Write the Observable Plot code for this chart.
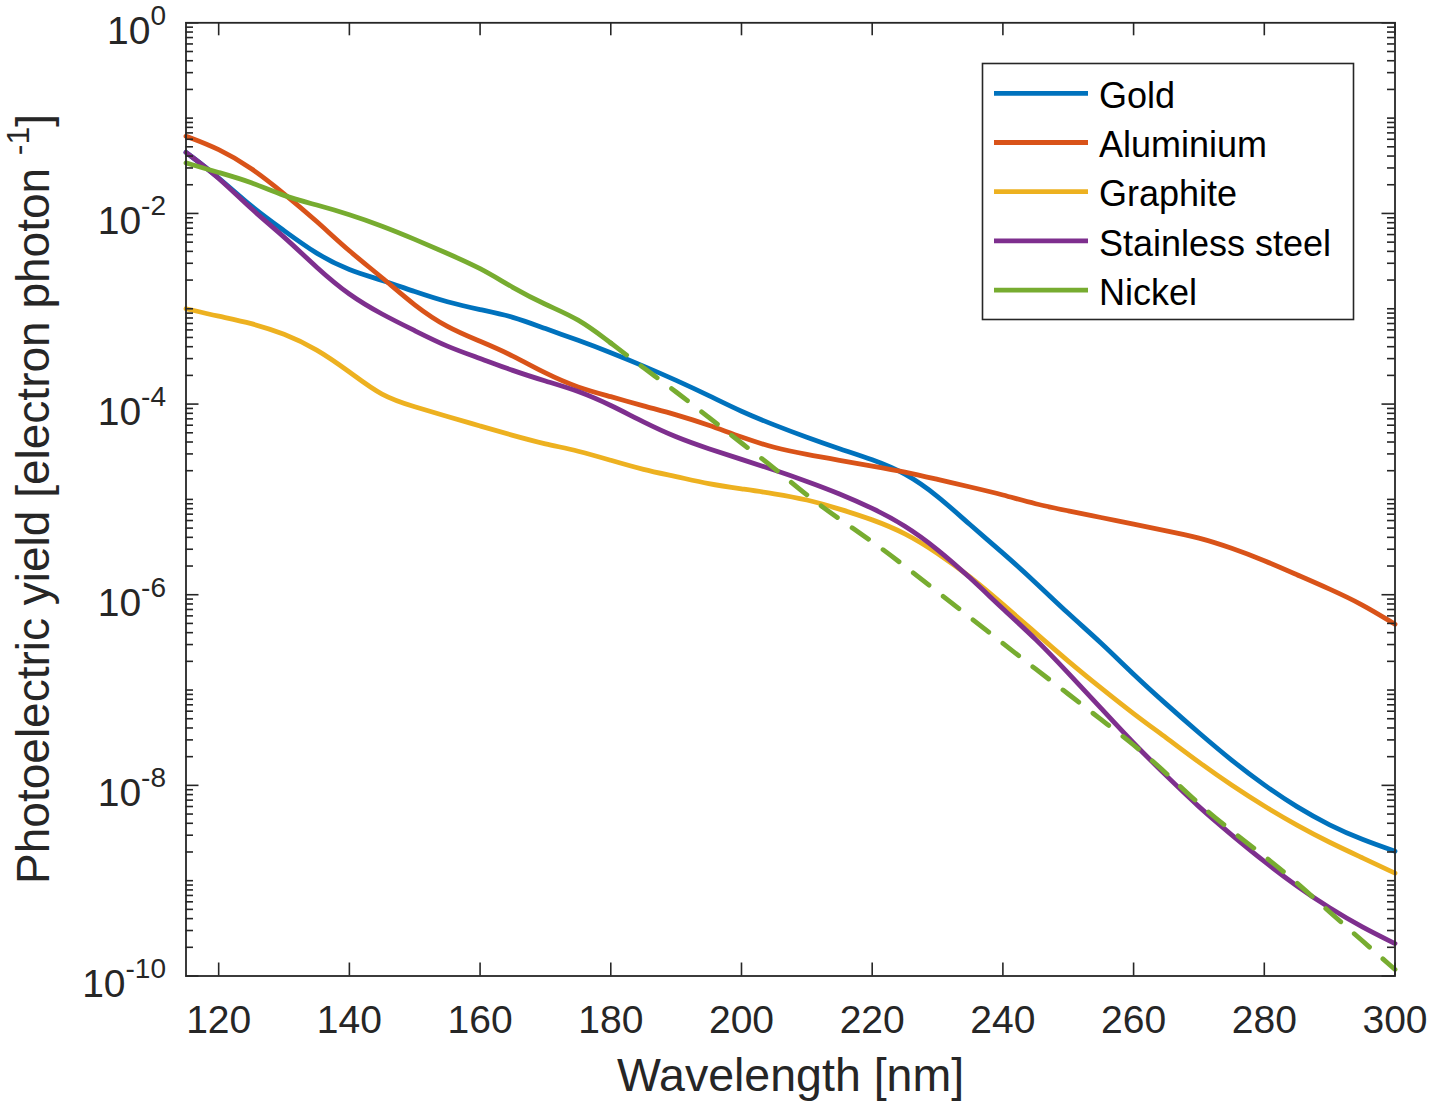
<!DOCTYPE html>
<html>
<head>
<meta charset="utf-8">
<script src="https://cdn.jsdelivr.net/npm/d3@7"></script>
<script src="https://cdn.jsdelivr.net/npm/@observablehq/plot@0.6"></script>
<style>
  body { margin: 0; background: #fff; }
  #chart { width: 1429px; height: 1104px; }
</style>
</head>
<body>
<div id="chart"></div>
<script>
// wavelength samples (nm)
const wavelength = [115, 120, 125, 130, 135, 140, 145, 150, 155, 160, 165, 170, 175, 180,
  185, 190, 195, 200, 205, 210, 215, 220, 225, 230, 235, 240, 245, 250, 255, 260,
  265, 270, 275, 280, 285, 290, 295, 300];

// photoelectric yield, electron per photon
const gold = [4.37e-2, 2.40e-2, 1.17e-2, 6.61e-3, 3.72e-3, 2.51e-3, 2.00e-3, 1.51e-3, 1.17e-3, 9.77e-4,
  8.32e-4, 6.17e-4, 4.68e-4, 3.47e-4, 2.51e-4, 1.78e-4, 1.23e-4, 8.32e-5, 6.03e-5, 4.47e-5,
  3.39e-5, 2.63e-5, 1.91e-5, 1.10e-5, 5.37e-6, 2.75e-6, 1.35e-6, 6.31e-7, 3.16e-7, 1.45e-7,
  7.08e-8, 3.55e-8, 1.82e-8, 1.00e-8, 5.89e-9, 3.80e-9, 2.69e-9, 2.04e-9];
const aluminium = [6.46e-2, 4.79e-2, 3.02e-2, 1.62e-2, 8.32e-3, 3.98e-3, 2.14e-3, 1.07e-3, 6.31e-4, 4.57e-4,
  3.24e-4, 2.09e-4, 1.48e-4, 1.20e-4, 9.55e-5, 7.76e-5, 6.03e-5, 4.47e-5, 3.47e-5, 2.95e-5,
  2.57e-5, 2.24e-5, 1.95e-5, 1.62e-5, 1.35e-5, 1.12e-5, 8.91e-6, 7.59e-6, 6.46e-6, 5.50e-6,
  4.68e-6, 3.98e-6, 3.09e-6, 2.29e-6, 1.62e-6, 1.15e-6, 7.94e-7, 4.90e-7];
const graphite = [1.00e-3, 8.32e-4, 7.08e-4, 5.50e-4, 3.80e-4, 2.19e-4, 1.20e-4, 9.33e-5, 7.41e-5, 5.89e-5,
  4.68e-5, 3.80e-5, 3.24e-5, 2.57e-5, 2.04e-5, 1.74e-5, 1.45e-5, 1.29e-5, 1.15e-5, 1.00e-5,
  7.94e-6, 6.17e-6, 4.47e-6, 2.75e-6, 1.55e-6, 7.94e-7, 3.98e-7, 2.00e-7, 1.05e-7, 5.62e-8,
  3.16e-8, 1.74e-8, 1.00e-8, 6.03e-9, 3.80e-9, 2.51e-9, 1.74e-9, 1.20e-9];
const stainless = [4.37e-2, 2.40e-2, 1.10e-2, 5.75e-3, 2.69e-3, 1.38e-3, 8.71e-4, 5.89e-4, 3.98e-4, 3.02e-4,
  2.24e-4, 1.74e-4, 1.38e-4, 9.77e-5, 6.46e-5, 4.47e-5, 3.39e-5, 2.63e-5, 2.04e-5, 1.55e-5,
  1.15e-5, 8.13e-6, 5.37e-6, 3.02e-6, 1.51e-6, 7.08e-7, 3.47e-7, 1.51e-7, 6.46e-8, 2.75e-8,
  1.26e-8, 5.89e-9, 3.02e-9, 1.58e-9, 8.71e-10, 5.13e-10, 3.24e-10, 2.19e-10];
// nickel: measured up to 180 nm, dashed extrapolation beyond
const nickelMeasured = [3.39e-2, 2.69e-2, 2.14e-2, 1.51e-2, 1.23e-2, 9.77e-3, 7.41e-3, 5.37e-3, 3.80e-3, 2.69e-3,
  1.66e-3, 1.10e-3, 7.94e-4, 4.37e-4];
const nickelExtrapolated = [4.37e-4, 2.40e-4, 1.35e-4, 7.24e-5, 3.89e-5, 2.14e-5, 1.10e-5, 6.17e-6, 3.63e-6, 2.00e-6,
  1.07e-6, 5.75e-7, 3.09e-7, 1.66e-7, 9.12e-8, 4.90e-8, 2.69e-8, 1.35e-8, 6.31e-9, 3.31e-9,
  1.82e-9, 9.55e-10, 4.68e-10, 2.34e-10, 1.17e-10];

const materials = ["Gold", "Aluminium", "Graphite", "Stainless steel", "Nickel"];
const colors = ["#0072BD", "#D95319", "#EDB120", "#7E2F8E", "#77AC30"];

const xTicks = [120, 140, 160, 180, 200, 220, 240, 260, 280, 300];
const yTicks = [1, 1e-2, 1e-4, 1e-6, 1e-8, 1e-10];
const yTickExp = ["0", "-2", "-4", "-6", "-8", "-10"];

// minor log ticks 2..9 per decade, plus the unlabelled odd decades
const yMinor = [];
for (let e = -10; e < 0; e++) {
  for (let m = 2; m <= 9; m++) yMinor.push(m * Math.pow(10, e));
  if (e % 2 !== 0) yMinor.push(Math.pow(10, e));
}

const series = [gold, aluminium, graphite, stainless, nickelMeasured];
const rows = series.flatMap((vals, k) => vals.map((v, i) => ({wl: wavelength[i], y: v, material: materials[k]})));
const dashed = nickelExtrapolated.map((v, i) => ({wl: wavelength[i + 13], y: v}));

const W = 1429, H = 1104;
const ml = 185.5, mr = 34.5, mt = 22.3, mb = 128.5;
const pw = W - ml - mr, ph = H - mt - mb;
const ink = "#262626";
const lw = 4.8;

const chart = Plot.plot({
  width: W,
  height: H,
  marginLeft: ml,
  marginRight: mr,
  marginTop: mt,
  marginBottom: mb,
  style: {
    fontFamily: "'Liberation Sans', Arial, Helvetica, sans-serif",
    fontSize: "39px",
    color: ink,
    background: "#fff"
  },
  x: {domain: [115, 300]},
  y: {type: "log", domain: [1e-10, 1]},
  color: {domain: materials, range: colors},
  marks: [
    Plot.line(rows, {x: "wl", y: "y", z: "material", stroke: "material", strokeWidth: lw, curve: "basis"}),
    Plot.line(dashed, {x: "wl", y: "y", stroke: colors[4], strokeWidth: lw, strokeDasharray: "20,18", curve: "basis"}),
    // inward ticks on all four sides
    Plot.tickY(yTicks, {y: d => d, insetRight: pw - 13, stroke: ink, strokeWidth: 1.6}),
    Plot.tickY(yTicks, {y: d => d, insetLeft: pw - 13, stroke: ink, strokeWidth: 1.6}),
    Plot.tickY(yMinor, {y: d => d, insetRight: pw - 7.5, stroke: ink, strokeWidth: 1.6}),
    Plot.tickY(yMinor, {y: d => d, insetLeft: pw - 7.5, stroke: ink, strokeWidth: 1.6}),
    Plot.tickX(xTicks, {x: d => d, insetTop: ph - 13, stroke: ink, strokeWidth: 1.6}),
    Plot.tickX(xTicks, {x: d => d, insetBottom: ph - 13, stroke: ink, strokeWidth: 1.6}),
    Plot.frame({stroke: ink, strokeWidth: 1.8}),
    Plot.axisX(xTicks, {tickSize: 0, tickPadding: 29.5, label: null}),
    Plot.axisY(yTicks, {tickSize: 0, tickPadding: 20, label: null,
      tickFormat: d => "10^" + yTickExp[yTicks.indexOf(d)]}),
    Plot.text(["Wavelength [nm]"], {text: d => d, frameAnchor: "bottom", lineAnchor: "bottom", dy: 114.5, fontSize: 46.5, fill: ink})
  ]
});

const svg = d3.select(chart);

// superscript exponents on the y tick labels
svg.selectAll('g[aria-label="y-axis tick label"] text').each(function() {
  const [base, exp] = this.textContent.split("^");
  const t = d3.select(this).text(null).attr("dy", 8.5);
  t.append("tspan").text(base);
  t.append("tspan").attr("dy", -19).attr("font-size", 28).text(exp);
});

// y axis title with superscript
const yl = svg.append("text")
  .attr("transform", `translate(49,${mt + ph / 2}) rotate(-90)`)
  .attr("text-anchor", "middle")
  .attr("font-size", 46)
  .attr("fill", ink);
yl.append("tspan").text("Photoelectric yield [electron photon ");
yl.append("tspan").attr("dy", -20).attr("font-size", 32).text("-1");
yl.append("tspan").attr("dy", 20).text("]");

// legend box, top right inside the axes
const lg = svg.append("g").attr("text-anchor", "start");
lg.append("rect")
  .attr("x", 982.5).attr("y", 63.5).attr("width", 371).attr("height", 256)
  .attr("fill", "#fff").attr("stroke", ink).attr("stroke-width", 1.6);
materials.forEach((m, i) => {
  const yy = 93.3 + i * 49.2;
  lg.append("line")
    .attr("x1", 994).attr("x2", 1088).attr("y1", yy).attr("y2", yy)
    .attr("stroke", colors[i]).attr("stroke-width", lw);
  lg.append("text")
    .attr("x", 1099).attr("y", yy + 14.7)
    .attr("text-anchor", "start")
    .attr("font-size", 36).attr("fill", "#000")
    .text(m);
});

d3.select("#chart").append(() => chart);
</script>
</body>
</html>
